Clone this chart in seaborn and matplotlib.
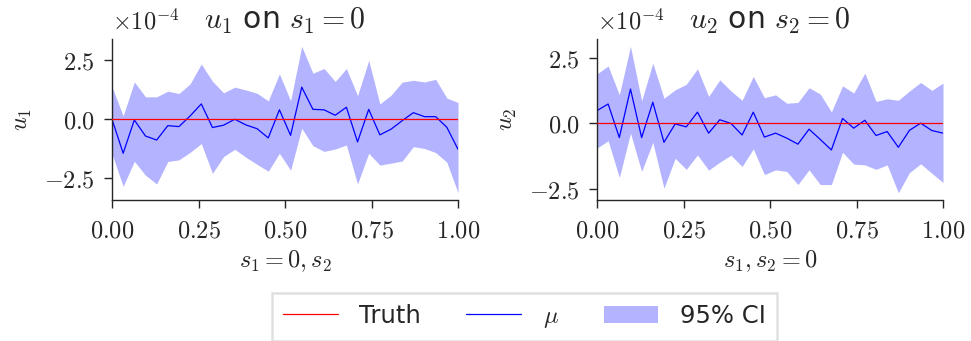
import numpy as np
import pandas as pd
import seaborn as sns
import matplotlib
matplotlib.use("Agg")
import matplotlib.pyplot as plt
from matplotlib.ticker import FuncFormatter, FixedLocator
from matplotlib.patches import Patch
from matplotlib.lines import Line2D

# Posterior summaries along two slices of the domain (values in units of 1e-4)
s_grid = np.linspace(0.0, 1.0, 32)

u1_mean = [0.00, -1.44, -0.03, -0.71, -0.88, -0.27, -0.31, 0.14, 0.65, -0.35,
           -0.25, 0.00, -0.24, -0.40, -0.79, 0.40, -0.68, 1.36, 0.42, 0.40,
           0.17, 0.51, -0.96, 0.42, -0.66, -0.42, -0.06, 0.28, 0.11, 0.11,
           -0.34, -1.27]
u1_upper = [1.38, 0.14, 1.58, 0.95, 0.95, 1.19, 1.09, 1.50, 2.34, 1.61,
            1.12, 1.36, 1.24, 1.10, 0.78, 1.92, 0.78, 3.09, 1.95, 2.15,
            1.60, 2.15, 1.00, 2.49, 0.65, 1.02, 1.57, 1.65, 1.58, 1.69,
            0.90, 0.71]
u1_lower = [-1.47, -2.84, -1.78, -2.37, -2.74, -1.79, -1.72, -1.40, -1.03, -2.29,
            -1.58, -1.27, -1.61, -1.91, -2.20, -1.44, -2.16, -0.38, -1.12, -1.36,
            -1.26, -1.09, -2.74, -1.44, -1.94, -1.86, -1.77, -1.16, -1.24, -1.41,
            -1.82, -3.11]

u2_mean = [0.48, 0.73, -0.55, 1.30, -0.55, 0.80, -0.73, -0.03, -0.14, 0.42,
           -0.38, 0.13, -0.01, -0.45, 0.42, -0.53, -0.38, -0.57, -0.80, -0.23,
           -0.62, -1.02, 0.18, -0.19, 0.11, -0.47, -0.32, -0.92, -0.27, 0.00,
           -0.28, -0.38]
u2_upper = [1.88, 2.18, 1.08, 2.93, 0.85, 2.29, 0.95, 1.27, 1.48, 2.07,
            1.02, 1.65, 1.23, 0.87, 1.78, 0.97, 1.08, 0.76, 0.79, 1.35,
            1.11, 0.43, 1.42, 1.15, 1.91, 0.83, 0.93, 0.87, 1.23, 1.55,
            1.25, 1.53]
u2_lower = [-0.95, -0.67, -2.07, -0.38, -1.84, -0.73, -2.48, -1.34, -1.76, -1.21,
            -1.79, -1.49, -1.22, -1.65, -0.98, -1.96, -1.78, -1.84, -2.34, -1.78,
            -2.34, -2.34, -1.11, -1.56, -1.59, -1.76, -1.59, -2.65, -1.88, -1.55,
            -1.91, -2.26]

truth_value = 0.0
scale = 1e-4

titles = [r"$u_1$ on $s_1 = 0$", r"$u_2$ on $s_2 = 0$"]
xlabels = [r"$s_1 = 0, s_2$", r"$s_1, s_2 = 0$"]
ylabels = [r"$u_1$", r"$u_2$"]
xticks = [0.0, 0.25, 0.5, 0.75, 1.0]
yticks = [-2.5e-4, 0.0, 2.5e-4]
legend_labels = ["Truth", r"$\mu$", r"95% CI"]

sns.set_style("ticks")
plt.rcParams["font.family"] = ["DejaVu Sans"]
plt.rcParams["mathtext.fontset"] = "cm"
plt.rcParams["axes.linewidth"] = 1.0
plt.rcParams["xtick.major.size"] = 5.5
plt.rcParams["ytick.major.size"] = 5.5
plt.rcParams["xtick.major.width"] = 1.0
plt.rcParams["ytick.major.width"] = 1.0

FS = 17.5
TITLE_FS = 21.5

fig = plt.figure(figsize=(9.71, 3.41), dpi=100)
W, H = 971.0, 341.0
ax1 = fig.add_axes([112 / W, 1 - 200 / H, 346 / W, 161 / H])
ax2 = fig.add_axes([597 / W, 1 - 200 / H, 346 / W, 161 / H])

panels = [(ax1, u1_mean, u1_lower, u1_upper), (ax2, u2_mean, u2_lower, u2_upper)]

fill_color = (0.70, 0.70, 1.0)

for i, (ax, mean, lower, upper) in enumerate(panels):
    df = pd.DataFrame({
        "s": s_grid,
        "mean": np.array(mean) * scale,
        "lower": np.array(lower) * scale,
        "upper": np.array(upper) * scale,
        "truth": np.full(len(s_grid), truth_value),
    })
    ax.fill_between(df["s"], df["lower"], df["upper"], color=fill_color,
                    linewidth=0, zorder=1)
    sns.lineplot(data=df, x="s", y="truth", ax=ax, color="red", linewidth=0.9,
                 zorder=3)
    sns.lineplot(data=df, x="s", y="mean", ax=ax, color="blue", linewidth=0.9,
                 zorder=2)
    ax.set_xlim(0, 1)
    ax.xaxis.set_major_locator(FixedLocator(xticks))
    ax.yaxis.set_major_locator(FixedLocator(yticks))
    ax.xaxis.set_major_formatter(FuncFormatter(lambda v, p: r"$%.2f$" % v))
    ax.yaxis.set_major_formatter(
        FuncFormatter(lambda v, p: r"$%.1f$" % (v / scale) if abs(v) > 1e-12 else r"$0.0$"))
    ax.tick_params(axis="x", labelsize=FS, pad=8)
    ax.tick_params(axis="y", labelsize=FS, pad=7)
    ax.set_xlabel(xlabels[i], fontsize=FS, labelpad=4)
    ax.set_ylabel(ylabels[i], fontsize=FS, labelpad=7)
    ax.set_title(titles[i], fontsize=TITLE_FS, pad=7)
    ax.text(0.0, 1.03, r"$\times10^{-4}$", transform=ax.transAxes,
            fontsize=FS, ha="left", va="bottom")
    sns.despine(ax=ax)

handles = [
    Line2D([], [], color="red", linewidth=0.9),
    Line2D([], [], color="blue", linewidth=0.9),
    Patch(facecolor=fill_color, edgecolor="none"),
]
leg = fig.legend(handles, legend_labels, loc="upper center",
                 bbox_to_anchor=(524.5 / W, 1 - 293 / H), ncol=3,
                 fontsize=FS, frameon=True, fancybox=False, borderaxespad=0,
                 handlelength=2.25, handletextpad=0.9, columnspacing=1.85,
                 borderpad=0.45)
leg.get_frame().set_edgecolor("#d9d9d9")
leg.get_frame().set_linewidth(1.8)

fig.savefig("out.png", dpi=100)
